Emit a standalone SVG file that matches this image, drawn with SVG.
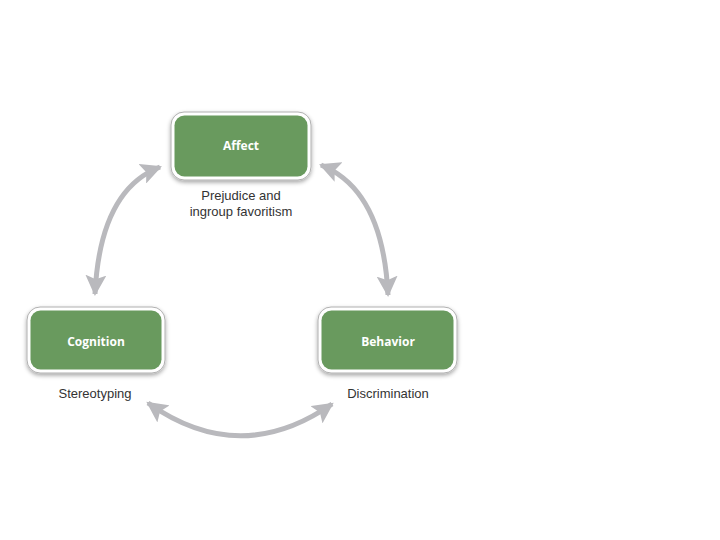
<svg xmlns="http://www.w3.org/2000/svg" width="720" height="540" viewBox="0 0 720 540">
<defs>
<filter id="sh" x="-20%" y="-20%" width="140%" height="150%">
<feDropShadow dx="0" dy="2" stdDeviation="2" flood-color="#000" flood-opacity="0.35"/>
</filter>
<marker id="ah" viewBox="0 0 10 10" refX="9" refY="5" markerWidth="4.2" markerHeight="4.2" orient="auto-start-reverse" markerUnits="strokeWidth">
<path d="M0,0 L10,5 L0,10 L2,5 Z" fill="#b9b9bd"/>
</marker>
<style>
.outer{fill:#fff;stroke:#b0b0b0;stroke-width:1;filter:url(#sh)}
.inner{fill:#699a5e}
.lbl{font-family:"Open Sans","Liberation Sans",sans-serif;font-weight:bold;font-size:12px;fill:#fff;text-anchor:middle}
.sub{font-family:"Liberation Sans","Open Sans",sans-serif;font-size:13px;fill:#333;text-anchor:middle}
.arc{fill:none;stroke:#b9b9bd;stroke-width:5;marker-start:url(#ah);marker-end:url(#ah)}
</style>
</defs>
<rect width="720" height="540" fill="#fff"/>
<g id="connectors">
<path class="arc" d="M160,167 Q100,190 95,294"/>
<path class="arc" d="M321,165 Q383,190 388,295"/>
<path class="arc" d="M148,403 Q240,468 332,404"/>
</g>
<g id="affect">
<rect class="outer" x="171" y="112" width="140" height="68" rx="13"/>
<rect class="inner" x="174.5" y="115.5" width="133" height="61" rx="10"/>
<text class="lbl" x="241" y="150">Affect</text>
<text class="sub" x="241" y="200">Prejudice and</text>
<text class="sub" x="241" y="216">ingroup favoritism</text>
</g>
<g id="cognition">
<rect class="outer" x="27" y="307" width="138" height="66" rx="13"/>
<rect class="inner" x="30.5" y="310.5" width="131" height="59" rx="10"/>
<text class="lbl" x="96" y="346">Cognition</text>
<text class="sub" x="95" y="398">Stereotyping</text>
</g>
<g id="behavior">
<rect class="outer" x="318" y="307" width="139" height="66" rx="13"/>
<rect class="inner" x="321.5" y="310.5" width="132" height="59" rx="10"/>
<text class="lbl" x="388" y="346">Behavior</text>
<text class="sub" x="388" y="398">Discrimination</text>
</g>
</svg>
